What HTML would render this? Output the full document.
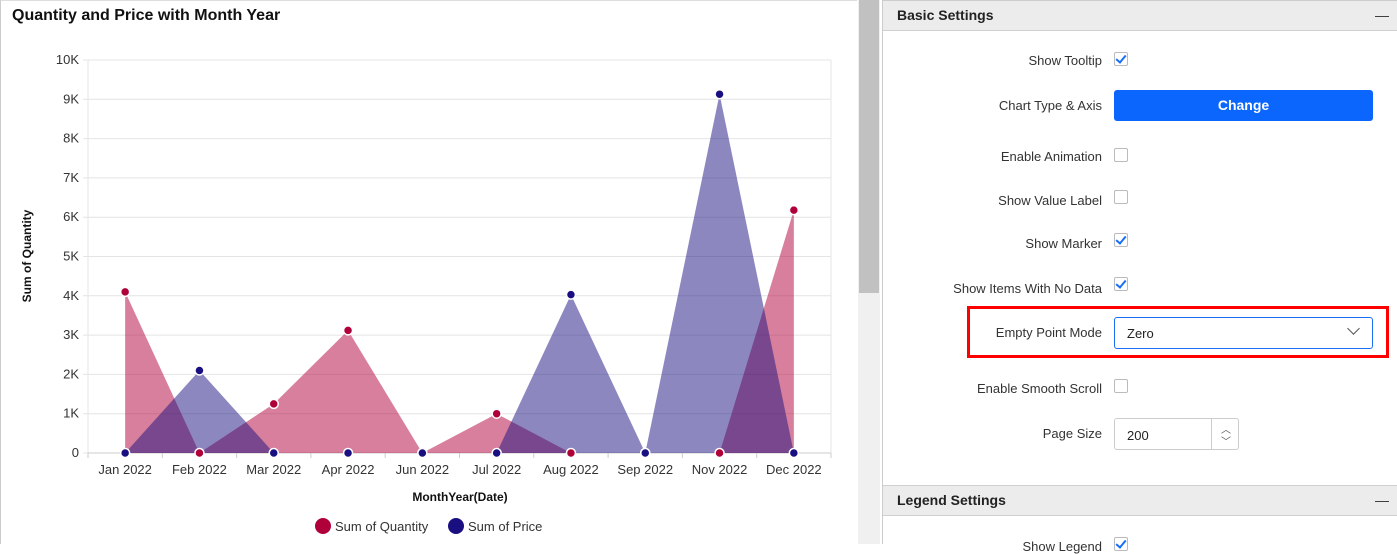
<!DOCTYPE html>
<html><head><meta charset="utf-8"><style>
body{margin:0;width:1397px;height:544px;overflow:hidden;background:#fff;font-family:"Liberation Sans",Arial,sans-serif;position:relative}
.abs{position:absolute}
.lbl{position:absolute;right:295px;font-size:13px;color:#333;text-align:right;white-space:nowrap}
.cb{position:absolute;left:1114px;width:14px;height:14px;border:1px solid #bbb;border-radius:2px;background:#fff;box-sizing:border-box}
.cb.on::after{content:"";position:absolute;left:3px;top:0px;width:4px;height:8px;border:solid #1a6ef5;border-width:0 2px 2px 0;transform:rotate(40deg)}
</style></head><body>
<div class="abs" style="left:0;top:0;width:857px;height:544px;border-left:1px solid #ccc;border-top:1px solid #ddd;box-sizing:border-box"></div>
<div class="abs" style="left:12px;top:7px;font-size:16px;font-weight:bold;color:#111">Quantity and Price with Month Year</div>
<svg class="abs" style="left:0;top:0" width="857" height="544">
<g id="grid"></g><g id="areas"></g><g id="marks"></g><g id="xl"></g>
<text x="31" y="256" transform="rotate(-90 31 256)" text-anchor="middle" font-size="12" font-weight="bold" fill="#111">Sum of Quantity</text>
<text x="460" y="501" text-anchor="middle" font-size="12" font-weight="bold" fill="#111">MonthYear(Date)</text>
<g><circle cx="323" cy="526" r="8" fill="#b0003a"/><text x="335" y="531" font-size="13" fill="#333">Sum of Quantity</text></g>
<g><circle cx="456" cy="526" r="8" fill="#1a0f80"/><text x="468" y="531" font-size="13" fill="#333">Sum of Price</text></g>
</svg>
<script>
const categories=["Jan 2022","Feb 2022","Mar 2022","Apr 2022","Jun 2022","Jul 2022","Aug 2022","Sep 2022","Nov 2022","Dec 2022"];
const quantity=[4100,0,1250,3120,0,1000,0,0,0,6180];
const price=[0,2100,0,0,0,0,4030,0,9130,0];
const yTicks=[0,1000,2000,3000,4000,5000,6000,7000,8000,9000,10000];
const yTickLabels=["0","1K","2K","3K","4K","5K","6K","7K","8K","9K","10K"];
const NS="http://www.w3.org/2000/svg";
const L=88,R=831,T=60,B=453,yMax=10000;
const bw=(R-L)/categories.length;
const X=i=>L+bw*(i+0.5);
const Y=v=>B-(v/yMax)*(B-T);
function mk(t,a,p){const e=document.createElementNS(NS,t);for(const k in a)e.setAttribute(k,a[k]);p.appendChild(e);return e;}
const g=document.getElementById('grid');
yTicks.forEach((v,i)=>{
 const ln=mk('line',{x1:L-5,x2:R,y1:Y(v),y2:Y(v),stroke:'#e4e4e4','stroke-width':1},g);
 
 
 const t=mk('text',{x:L-9,y:Y(v)+4,'text-anchor':'end','font-size':13,fill:'#333'},g);t.textContent=yTickLabels[i];
 
 
});
mk('line',{x1:L,x2:L,y1:T,y2:B,stroke:'#e4e4e4'},g);
mk('line',{x1:R,x2:R,y1:T,y2:B,stroke:'#e4e4e4'},g);
mk('line',{x1:L,x2:R,y1:B,y2:B,stroke:'#ccc'},g);
const xl=document.getElementById('xl');
categories.forEach((c,i)=>{
 mk('line',{x1:L+bw*i,x2:L+bw*i,y1:B,y2:B+5,stroke:'#ccc'},xl);
 const t=mk('text',{x:X(i),y:B+21,'text-anchor':'middle','font-size':13,fill:'#333'},xl);t.textContent=c;
 
 
});
mk('line',{x1:R,x2:R,y1:B,y2:B+5,stroke:'#ccc'},xl);
const ar=document.getElementById('areas'),mg=document.getElementById('marks');
function area(vals,col,name){
 let d='M'+X(0)+','+Y(0);
 vals.forEach((v,i)=>d+=' L'+X(i)+','+Y(v));
 d+=' L'+X(vals.length-1)+','+Y(0)+' Z';
 const p=mk('path',{d:d,fill:col,'fill-opacity':0.5},ar);
 
 
}
function marks(vals,col,name){
 vals.forEach((v,i)=>{const c=mk('circle',{cx:X(i),cy:Y(v),r:4.5,fill:col,stroke:'#fff','stroke-width':1.5},mg);
 
 });
}
area(quantity,'#b0003a','quantity');area(price,'#1a0f80','price');
marks(quantity,'#b0003a','quantity');marks(price,'#1a0f80','price');
</script>
<div class="abs" style="left:858px;top:0;width:22px;height:544px;background:#f0f0f0"></div>
<div class="abs" style="left:859px;top:0;width:20px;height:293px;background:#c1c1c1"></div>
<div class="abs" style="left:882px;top:0;width:515px;height:544px;border-left:1px solid #ccc;border-top:1px solid #ccc;box-sizing:border-box"></div>
<div class="abs" style="left:883px;top:1px;width:514px;height:29px;background:#ececec;border-bottom:1px solid #d0d0d0"><span style="position:absolute;left:14px;top:6px;font-size:14px;font-weight:bold;color:#222">Basic Settings</span><span style="position:absolute;right:8px;top:6px;font-size:14px;color:#333">—</span></div>
<div class="lbl" style="top:53px">Show Tooltip</div><div class="cb on" style="top:52px"></div>
<div class="lbl" style="top:98px">Chart Type &amp; Axis</div>
<div class="abs" style="left:1114px;top:90px;width:259px;height:31px;background:#0a66fc;border-radius:3px;color:#fff;font-weight:bold;font-size:14px;text-align:center;line-height:31px">Change</div>
<div class="lbl" style="top:149px">Enable Animation</div><div class="cb" style="top:148px"></div>
<div class="lbl" style="top:193px">Show Value Label</div><div class="cb" style="top:190px"></div>
<div class="lbl" style="top:236px">Show Marker</div><div class="cb on" style="top:233px"></div>
<div class="lbl" style="top:281px">Show Items With No Data</div><div class="cb on" style="top:277px"></div>
<div class="abs" style="left:967px;top:306px;width:422px;height:52px;border:3px solid #f00;box-sizing:border-box"></div>
<div class="lbl" style="top:325px">Empty Point Mode</div>
<div class="abs" style="left:1114px;top:317px;width:259px;height:32px;border:1px solid #1a6ef5;border-radius:3px;box-sizing:border-box"><span style="position:absolute;left:12px;top:8px;font-size:13px;color:#222">Zero</span><span style="position:absolute;right:14px;top:6px;width:8px;height:8px;border:solid #555;border-width:0 1px 1px 0;transform:rotate(45deg)"></span></div>
<div class="lbl" style="top:381px">Enable Smooth Scroll</div><div class="cb" style="top:379px"></div>
<div class="lbl" style="top:426px">Page Size</div>
<div class="abs" style="left:1114px;top:418px;width:125px;height:32px;border:1px solid #ccc;border-radius:3px;box-sizing:border-box"><span style="position:absolute;left:12px;top:9px;font-size:13px;color:#222">200</span><span style="position:absolute;left:96px;top:0;width:1px;height:30px;background:#ccc"></span><span style="position:absolute;left:106px;top:2px;font-size:10px;color:#555">︿</span><span style="position:absolute;left:106px;top:14px;font-size:10px;color:#555">﹀</span></div>
<div class="abs" style="left:883px;top:485px;width:514px;height:29px;background:#ececec;border-top:1px solid #d0d0d0;border-bottom:1px solid #d0d0d0"><span style="position:absolute;left:14px;top:6px;font-size:14px;font-weight:bold;color:#222">Legend Settings</span><span style="position:absolute;right:8px;top:6px;font-size:14px;color:#333">—</span></div>
<div class="lbl" style="top:539px">Show Legend</div><div class="cb on" style="top:537px"></div>
</body></html>
